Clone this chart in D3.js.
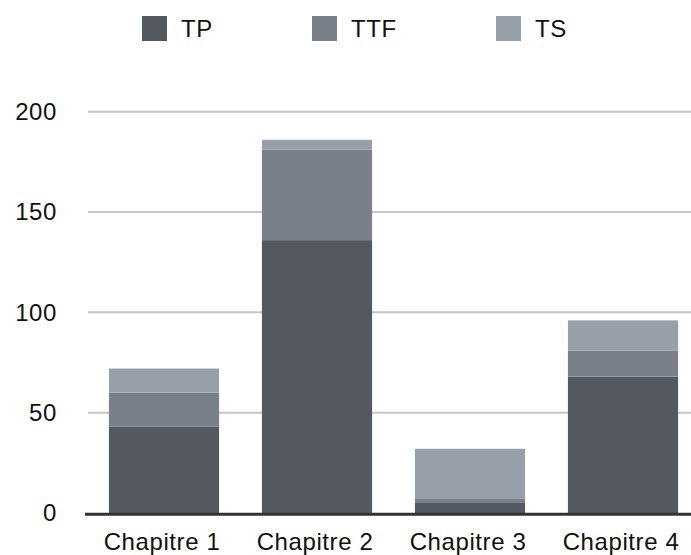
<!DOCTYPE html>
<html>
<head>
<meta charset="utf-8">
<script src="https://cdn.jsdelivr.net/npm/d3@7"></script>
<style>
  html, body { margin: 0; padding: 0; background: #fff; }
  svg { display: block; font-family: "Liberation Sans", Arial, Helvetica, sans-serif; }
</style>
</head>
<body>
<svg id="chart" width="691" height="555"></svg>
<script>
// Chapters and the three stacked series
const categories = ["Chapitre 1", "Chapitre 2", "Chapitre 3", "Chapitre 4"];
const seriesNames = ["TP", "TTF", "TS"];
const tpValues  = [43, 136, 5, 68];
const ttfValues = [17, 45, 2, 13];
const tsValues  = [12, 5, 25, 15];
const yTicks = [0, 50, 100, 150, 200];
const colors = ["#545960", "#7a8089", "#97a0a8"];

const rows = categories.map((c, i) => ({
  category: c, TP: tpValues[i], TTF: ttfValues[i], TS: tsValues[i]
}));

const svg = d3.select("#chart");

const x = d3.scaleBand()
  .domain(categories)
  .range([87.5, 699.5])
  .paddingInner(0.28)
  .paddingOuter(0.14);

const y = d3.scaleLinear()
  .domain([0, 200])
  .range([513, 111.7]);

const color = d3.scaleOrdinal().domain(seriesNames).range(colors);

// Horizontal gridlines
svg.append("g")
  .selectAll("line")
  .data(yTicks.filter(d => d > 0))
  .join("line")
  .attr("x1", 88).attr("x2", 691)
  .attr("y1", d => y(d)).attr("y2", d => y(d))
  .attr("stroke", "#c6c6c6")
  .attr("stroke-width", 2);

// Y tick labels
svg.append("g")
  .selectAll("text")
  .data(yTicks)
  .join("text")
  .attr("x", 57)
  .attr("y", d => y(d))
  .attr("dy", "0.35em")
  .attr("text-anchor", "end")
  .attr("font-size", 24)
  .attr("letter-spacing", 0.6)
  .attr("fill", "#111")
  .text(d => d);

// Stacked bars
const stacked = d3.stack().keys(seriesNames)(rows);

svg.append("g")
  .selectAll("g")
  .data(stacked)
  .join("g")
  .attr("fill", d => color(d.key))
  .selectAll("rect")
  .data(d => d)
  .join("rect")
  .attr("x", d => x(d.data.category))
  .attr("width", x.bandwidth())
  .attr("y", d => y(d[1]))
  .attr("height", d => y(d[0]) - y(d[1]));

// Baseline
svg.append("line")
  .attr("x1", 85).attr("x2", 691)
  .attr("y1", y(0) + 1.2).attr("y2", y(0) + 1.2)
  .attr("stroke", "#333")
  .attr("stroke-width", 3);

// Category labels
svg.append("g")
  .selectAll("text")
  .data(categories)
  .join("text")
  .attr("x", d => x(d) + x.bandwidth() / 2 - 2)
  .attr("y", 550)
  .attr("text-anchor", "middle")
  .attr("font-size", 24)
  .attr("letter-spacing", 0.6)
  .attr("fill", "#111")
  .text(d => d);

// Legend
const legendX = [142, 312, 496];
const legend = svg.append("g")
  .selectAll("g")
  .data(seriesNames)
  .join("g")
  .attr("transform", (d, i) => `translate(${legendX[i]},16)`);

legend.append("rect")
  .attr("width", 25).attr("height", 25)
  .attr("fill", d => color(d));

legend.append("text")
  .attr("x", 39)
  .attr("y", 12.5)
  .attr("dy", "0.35em")
  .attr("font-size", 24)
  .attr("letter-spacing", 0.6)
  .attr("fill", "#111")
  .text(d => d);
</script>
</body>
</html>
